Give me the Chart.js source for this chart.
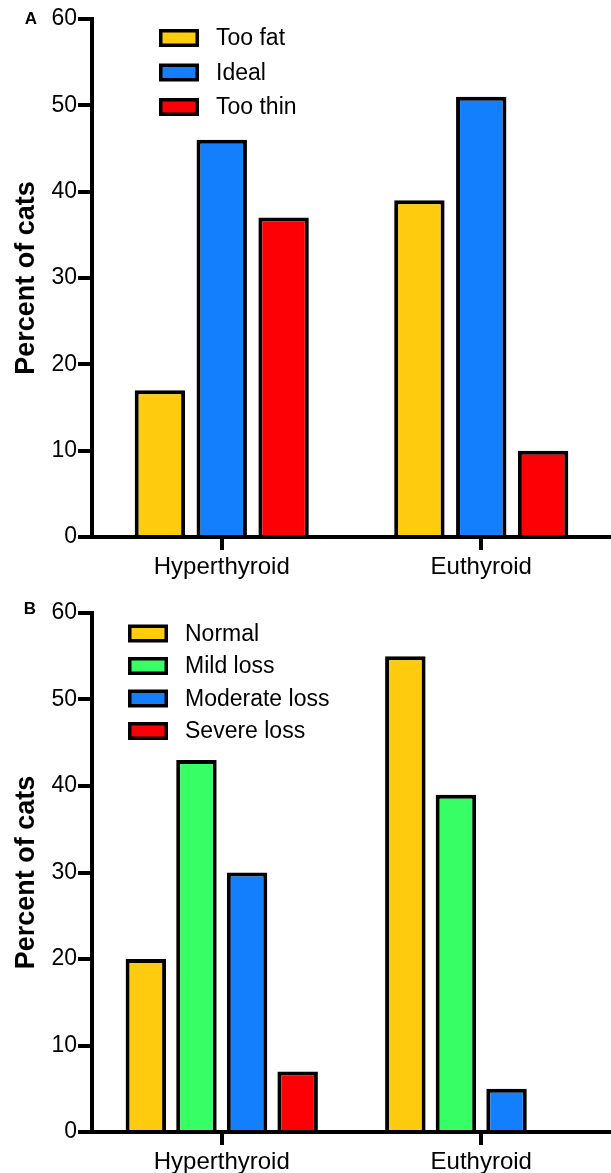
<!DOCTYPE html>
<html>
<head>
<meta charset="utf-8">
<script src="https://cdn.jsdelivr.net/npm/chart.js@4.4.1/dist/chart.umd.min.js"></script>
<style>
  html, body { margin: 0; padding: 0; background: #fff; overflow: hidden; }
  canvas { display: block; }
</style>
</head>
<body>
<canvas id="chart-a" width="611" height="590"></canvas>
<canvas id="chart-b" width="611" height="583"></canvas>
<script>
// Datos (porcentaje de gatos)
var grupos = ['Hyperthyroid', 'Euthyroid'];
var ticksY = [0, 10, 20, 30, 40, 50, 60];
var tituloY = 'Percent of cats';

// A. condición corporal
var nombresA = ['Too fat', 'Ideal', 'Too thin'];
var tooFat = [17, 39];
var ideal = [46, 51];
var tooThin = [37, 10];

// B. pérdida muscular
var nombresB = ['Normal', 'Mild loss', 'Moderate loss', 'Severe loss'];
var normal = [20, 55];
var mildLoss = [43, 39];
var moderateLoss = [30, 5];
var severeLoss = [7, 0];

var c = { yellow: '#fecb0f', blue: '#137ffd', red: '#fd0006', green: '#36fe64' };
var FUENTE = "'Liberation Sans', Arial, Helvetica, sans-serif";
Chart.defaults.font.family = FUENTE;
Chart.defaults.color = '#000';

// leyenda en cajas + letra del panel, dibujadas sobre el lienzo
var leyendaCajas = {
  id: 'leyendaCajas',
  afterDraw: function (chart, args, o) {
    var ctx = chart.ctx;
    ctx.save();
    ctx.textBaseline = 'middle';
    ctx.textAlign = 'left';
    ctx.font = o.size + 'px ' + FUENTE;
    chart.data.datasets.forEach(function (ds, i) {
      var cy = o.y + i * o.gap;
      ctx.fillStyle = '#000';
      ctx.fillRect(o.x, cy - o.h / 2, o.w, o.h);
      ctx.fillStyle = ds.backgroundColor;
      ctx.fillRect(o.x + o.b, cy - o.h / 2 + o.b, o.w - 2 * o.b, o.h - 2 * o.b);
      ctx.fillStyle = '#000';
      ctx.fillText(ds.label, o.textX, cy + 1);
    });
    ctx.font = 'bold 17px ' + FUENTE;
    ctx.textAlign = 'center';
    ctx.fillText(o.letra, o.letraX, o.letraY);
    ctx.restore();
  }
};

function grafico(id, series, nombres, colores, op) {
  return new Chart(document.getElementById(id), {
    type: 'bar',
    data: {
      labels: grupos,
      datasets: series.map(function (s, i) {
        return {
          label: nombres[i], data: s, backgroundColor: colores[i],
          borderColor: '#000', borderWidth: 4,
          categoryPercentage: op.cat, barPercentage: op.bar,
        };
      }),
    },
    options: {
      responsive: false,
      animation: false,
      devicePixelRatio: 1,
      layout: { padding: { top: op.top, left: 0, right: 0, bottom: 0 } },
      plugins: { legend: { display: false }, tooltip: { enabled: false }, leyendaCajas: op.leyenda },
      scales: {
        x: {
          grid: { offset: false, drawOnChartArea: false, tickLength: 13, lineWidth: 4, color: '#000' },
          border: { color: '#000', width: 4 },
          ticks: { color: '#000', font: { size: 24 }, padding: 3 },
          afterFit: function (s) { s.height = op.alto; },
        },
        y: {
          min: ticksY[0], max: ticksY[ticksY.length - 1],
          ticks: { stepSize: ticksY[1] - ticksY[0], color: '#000', font: { size: 23 }, padding: 1 },
          grid: { drawOnChartArea: false, tickLength: 14, lineWidth: 4, color: '#000' },
          border: { color: '#000', width: 4 },
          title: {
            display: true, text: tituloY, color: '#000',
            font: { size: 27, weight: 'bold' }, padding: { top: 10, bottom: 0 },
          },
          afterFit: function (s) { s.width = 92; },
        },
      },
    },
    plugins: [leyendaCajas],
  });
}

grafico('chart-a', [tooFat, ideal, tooThin], nombresA, [c.yellow, c.blue, c.red], {
  cat: 0.715, bar: 0.815, top: 19, alto: 53,
  leyenda: { x: 159, y: 38, gap: 34.5, w: 40, h: 18, b: 3.5, textX: 216, size: 23, letra: 'A', letraX: 31, letraY: 19 },
});

grafico('chart-b', [normal, mildLoss, moderateLoss, severeLoss], nombresB, [c.yellow, c.green, c.blue, c.red], {
  cat: 0.78, bar: 0.80, top: 23, alto: 41,
  leyenda: { x: 128, y: 43.5, gap: 32.5, w: 40, h: 18, b: 3.5, textX: 185, size: 23, letra: 'B', letraX: 30, letraY: 19 },
});
</script>
</body>
</html>
